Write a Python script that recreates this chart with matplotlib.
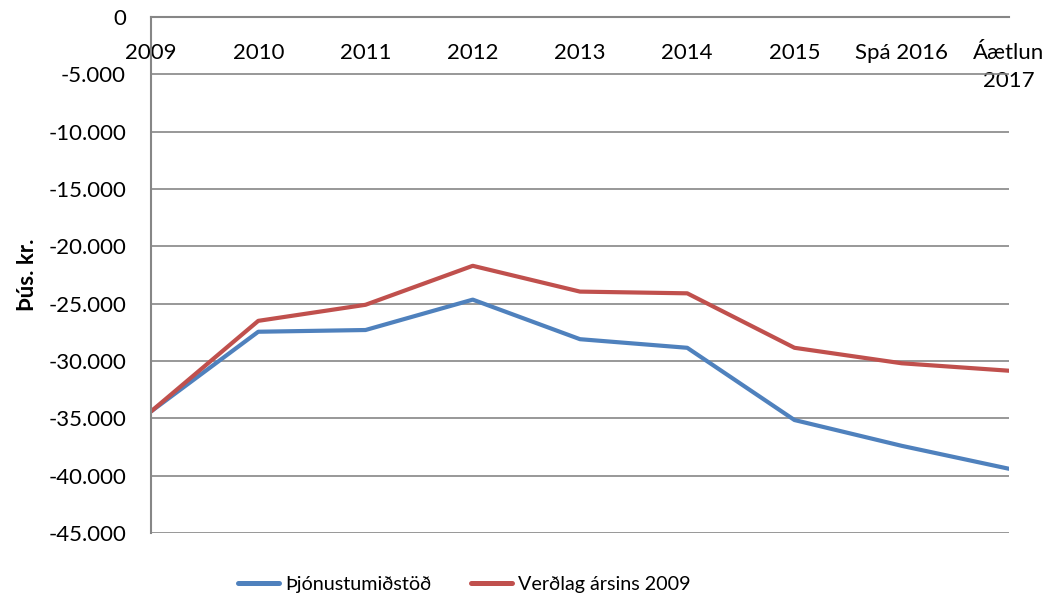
import matplotlib
matplotlib.use("Agg")
import matplotlib.pyplot as plt
from matplotlib.ticker import FuncFormatter

plt.rcParams['font.family'] = ['Lato', 'DejaVu Sans']

categories = ["2009", "2010", "2011", "2012", "2013", "2014", "2015",
              "Spá 2016", "Áætlun\n2017"]
thjonusta = [-34400, -27450, -27300, -24650, -28100, -28850, -35150,
             -37400, -39400]
verdlag = [-34400, -26500, -25100, -21700, -23950, -24100, -28850,
           -30200, -30850]

blue = "#4F81BD"
red = "#C0504D"
grid_clr = "#868686"
fs = 16

fig = plt.figure(figsize=(10.51, 6.0), dpi=100)
ax = fig.add_axes([0.1437, 0.1117, 0.8163, 0.86])

x = list(range(len(categories)))
ax.plot(x, thjonusta, color=blue, lw=3.0, label="Þjónustumiðstöð",
        solid_capstyle="round")
ax.plot(x, verdlag, color=red, lw=3.0, label="Verðlag ársins 2009",
        solid_capstyle="round")

ax.set_xlim(0, len(categories) - 1)
ax.set_ylim(-45000, 0)
ax.set_yticks(range(-45000, 1, 5000))
ax.yaxis.set_major_formatter(
  FuncFormatter(lambda v, p: f"{int(v):,}".replace(",", ".")))
ax.grid(axis="y", color=grid_clr, lw=1.2)
ax.set_axisbelow(True)

for side in ["right", "bottom"]:
  ax.spines[side].set_visible(False)
ax.spines["left"].set_color(grid_clr)
ax.spines["left"].set_linewidth(1.5)
ax.spines["top"].set_color(grid_clr)
ax.spines["top"].set_linewidth(1.5)

ax.set_xticks(x)
ax.set_xticklabels(categories, va="top", ha="center", multialignment="center")
ax.tick_params(axis="x", bottom=False, labelbottom=False, top=False,
               labeltop=True, pad=-22, labelsize=fs)
ax.tick_params(axis="y", length=0, pad=18, labelsize=fs)
for lbl in ax.get_xticklabels():
  lbl.set_va("top")
  lbl.set_linespacing(1.5)

ax.set_ylabel("Þús. kr.", fontsize=fs, fontweight="bold", labelpad=7)

leg = fig.legend(loc="lower center", bbox_to_anchor=(0.4415, -0.018), ncol=2,
                 frameon=False, fontsize=14.2, handlelength=2.1,
                 handletextpad=0.3, columnspacing=2.0)
for h in leg.get_lines():
  h.set_linewidth(3.6)

fig.savefig("out.png", dpi=100)
